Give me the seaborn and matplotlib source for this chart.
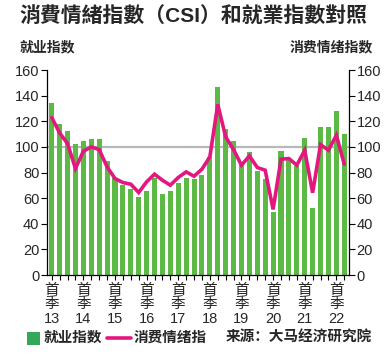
import matplotlib
matplotlib.use("Agg")
import matplotlib.pyplot as plt
import seaborn as sns
import numpy as np
import pandas as pd
from matplotlib.patches import Rectangle
from matplotlib.lines import Line2D

# ---- data (2013Q1 .. 2022Q2) ----
quarters = [f"{y}Q{q}" for y in range(13, 23) for q in range(1, 5)][:38]
employment_index = [134, 118, 112.5, 102.6, 104.9, 106.5, 106.5, 88.8, 76.1, 70.1,
                    66.8, 61.0, 65.7, 76.1, 63.6, 65.2, 71.9, 76.1, 75.3, 77.7,
                    92.2, 146.5, 114.3, 104.4, 85.7, 95.8, 81.0, 75.3, 49.4, 96.9,
                    89.6, 84.9, 107.0, 52.2, 115.3, 115.3, 128.0, 110.4]
csi = [122.9, 110.9, 102.6, 83.1, 96.6, 100.0, 97.9, 84.4, 75.3, 72.2,
       70.9, 64.4, 72.7, 78.7, 74.0, 70.1, 76.1, 80.5, 77.1, 82.6,
       92.2, 133.2, 107.8, 97.9, 85.7, 93.0, 83.9, 81.8, 51.2, 90.4,
       90.9, 85.7, 97.4, 64.2, 101.8, 97.4, 109.1, 86.5]
year_labels = ["首\n季\n13", "首\n季\n14", "首\n季\n15", "首\n季\n16", "首\n季\n17",
               "首\n季\n18", "首\n季\n19", "首\n季\n20", "首\n季\n21", "首\n季\n22"]
y_ticks = [0, 20, 40, 60, 80, 100, 120, 140, 160]

title = "消費情緒指數（CSI）和就業指數對照"
left_label = "就业指数"
right_label = "消费情绪指数"
legend_bar = "就业指数"
legend_line = "消费情绪指"
source = "来源：大马经济研究院"

GREEN = "#5cb946"
LEGEND_GREEN = "#34a85a"
PINK = "#e4177f"
GRAY = "#b8b8b8"

sns.set_style("white")
plt.rcParams['font.family'] = ['Liberation Sans', 'Noto Sans CJK SC', 'DejaVu Sans']

df = pd.DataFrame({"quarter": quarters, "emp": employment_index, "csi": csi})
df["pos"] = np.arange(len(df))

fig = plt.figure(figsize=(3.87, 3.58), dpi=100)
ax = fig.add_axes([0.1214, 0.2318, 0.7804, 0.5726])

sns.barplot(data=df, x="quarter", y="emp", color=GREEN, saturation=1,
            width=0.64, ax=ax, zorder=2, linewidth=0, edgecolor="none")
ax.axhline(100, color=GRAY, lw=1.6, zorder=1)

ax2 = ax.twinx()
sns.lineplot(data=df, x="pos", y="csi", color=PINK, lw=2.6, ax=ax2,
             solid_joinstyle="miter")

for a in (ax, ax2):
    a.set_ylim(0, 160)
    a.set_yticks(y_ticks)
    a.set_xlabel("")
    a.set_ylabel("")
    a.spines["top"].set_visible(False)
    for s in a.spines.values():
        s.set_color("black")
        s.set_linewidth(0.9)

ax.spines["right"].set_visible(False)
ax2.spines["left"].set_visible(False)
ax2.spines["bottom"].set_visible(False)

ax.set_xlim(-0.6, 37.6)
ax.set_xticks(list(range(0, 38, 4)))
ax.set_xticklabels(year_labels, fontsize=10.5, linespacing=1.05)
ax.set_xticks([i for i in range(38) if i % 4 != 0], minor=True)
ax.tick_params(axis="x", which="both", direction="out", length=3.5, width=0.8,
               color="black", pad=2, bottom=True)
ax.tick_params(axis="y", direction="out", length=4, width=0.8, color="black",
               labelsize=10.5, pad=1.5, left=True)
ax2.tick_params(axis="y", direction="out", length=4, width=0.8, color="black",
                labelsize=10.5, pad=1.5, right=True)
ax2.tick_params(axis="x", which="both", bottom=False, labelbottom=False,
                top=False, labeltop=False)

for lab in ax.get_xticklabels():
    lab.set_horizontalalignment("center")

fig.text(0.5, 0.953, title, ha="center", va="center", fontsize=15,
         fontweight="bold", family=['Liberation Sans', 'Noto Sans CJK TC', 'DejaVu Sans'])
fig.text(0.052, 0.869, left_label, ha="left", va="center", fontsize=10,
         fontweight="bold")
fig.text(0.964, 0.869, right_label, ha="right", va="center", fontsize=10,
         fontweight="bold")

# legend row
ly = 1 - 338 / 358
fig.add_artist(Rectangle((27 / 387, ly - 6.5 / 358), 13 / 387, 13 / 358,
                         transform=fig.transFigure, color=LEGEND_GREEN, lw=0))
fig.text(44 / 387, ly, legend_bar, ha="left", va="center", fontsize=10.5,
         fontweight="bold")
fig.add_artist(Line2D([107 / 387, 131 / 387], [ly, ly], transform=fig.transFigure,
                      color=PINK, lw=2.6))
fig.text(134 / 387, ly, legend_line, ha="left", va="center", fontsize=10.5,
         fontweight="bold")
fig.text(372 / 387, ly, source, ha="right", va="center", fontsize=10.5,
         fontweight="bold")

fig.savefig("out.png", dpi=100)
